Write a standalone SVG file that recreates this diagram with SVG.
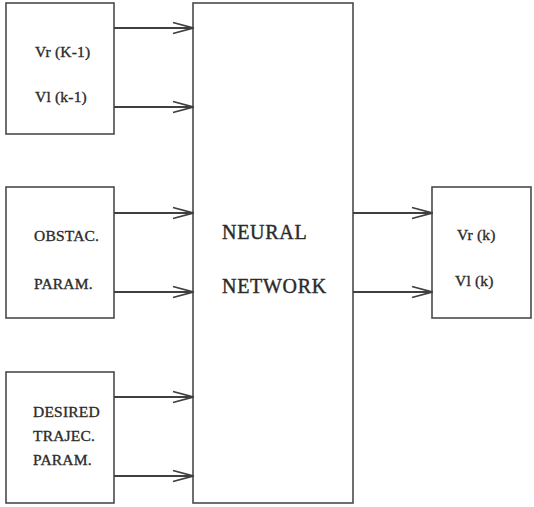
<svg xmlns="http://www.w3.org/2000/svg" width="534" height="507" viewBox="0 0 534 507">
  <style>
    .box { fill: #ffffff; stroke: #4a4a4a; stroke-width: 1.6; }
    .lbl { font-family: "Liberation Serif", "Times New Roman", serif; font-size: 15.5px; fill: #2b2b2b; stroke: #2b2b2b; stroke-width: 0.35px; letter-spacing: 0.2px; }
    .big { font-family: "Liberation Serif", "Times New Roman", serif; font-size: 20px; fill: #2b2b2b; stroke: #2b2b2b; stroke-width: 0.4px; letter-spacing: 0.7px; }
    .wire { stroke: #3f3f3f; stroke-width: 2; fill: none; }
  </style>
  <defs>
    <marker id="openArrow" markerWidth="22" markerHeight="14" refX="21" refY="7" orient="auto" markerUnits="userSpaceOnUse">
      <path d="M1,1.5 L21,7 L1,12.5" fill="none" stroke="#3f3f3f" stroke-width="1.8"/>
    </marker>
  </defs>
  <rect width="534" height="507" fill="#ffffff"/>

  <g id="prev-velocity">
    <rect class="box" x="6" y="3" width="108" height="131"/>
    <text class="lbl" x="35" y="57">Vr (K-1)</text>
    <text class="lbl" x="35" y="102">Vl (k-1)</text>
  </g>

  <g id="obstacle-params">
    <rect class="box" x="6" y="187" width="108" height="131"/>
    <text class="lbl" x="34" y="241">OBSTAC.</text>
    <text class="lbl" x="34" y="289">PARAM.</text>
  </g>

  <g id="trajectory-params">
    <rect class="box" x="6" y="372" width="108" height="131"/>
    <text class="lbl" x="33" y="417">DESIRED</text>
    <text class="lbl" x="33" y="441">TRAJEC.</text>
    <text class="lbl" x="33" y="465">PARAM.</text>
  </g>

  <g id="neural-network">
    <rect class="box" x="193" y="3" width="160" height="500"/>
    <text class="big" x="222" y="239">NEURAL</text>
    <text class="big" x="222" y="293">NETWORK</text>
  </g>

  <g id="output-velocity">
    <rect class="box" x="432" y="187" width="99" height="131"/>
    <text class="lbl" x="457" y="240">Vr (k)</text>
    <text class="lbl" x="455" y="286">Vl (k)</text>
  </g>

  <g id="connectors">
    <line class="wire" x1="114" y1="28" x2="193" y2="28" marker-end="url(#openArrow)"/>
    <line class="wire" x1="114" y1="107" x2="193" y2="107" marker-end="url(#openArrow)"/>
    <line class="wire" x1="114" y1="213" x2="193" y2="213" marker-end="url(#openArrow)"/>
    <line class="wire" x1="114" y1="292" x2="193" y2="292" marker-end="url(#openArrow)"/>
    <line class="wire" x1="114" y1="397" x2="193" y2="397" marker-end="url(#openArrow)"/>
    <line class="wire" x1="114" y1="476" x2="193" y2="476" marker-end="url(#openArrow)"/>
    <line class="wire" x1="353" y1="213" x2="432" y2="213" marker-end="url(#openArrow)"/>
    <line class="wire" x1="353" y1="292" x2="432" y2="292" marker-end="url(#openArrow)"/>
  </g>
</svg>
